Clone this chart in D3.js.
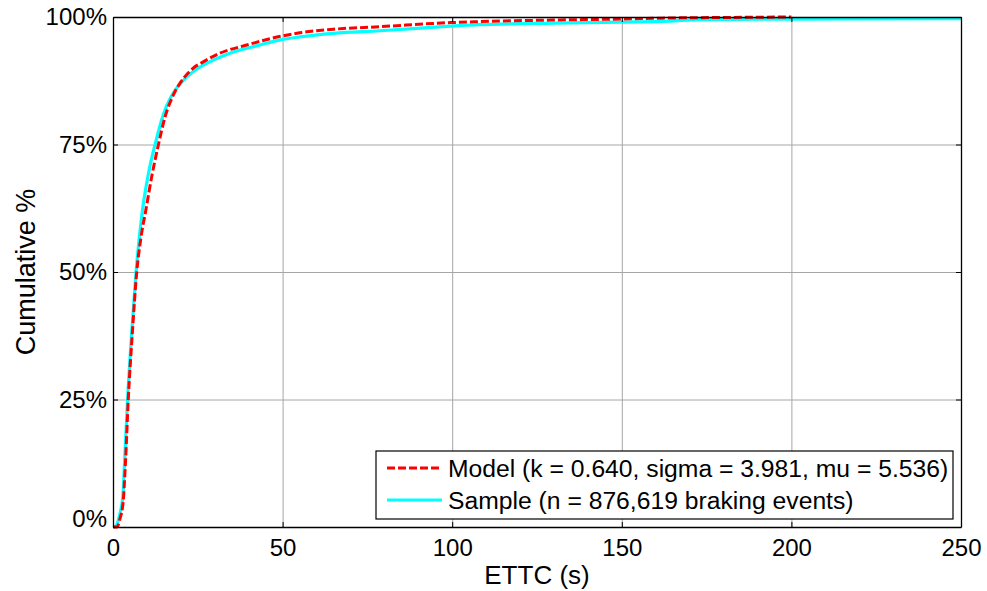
<!DOCTYPE html>
<html>
<head>
<meta charset="utf-8">
<script src="https://cdn.jsdelivr.net/npm/d3@7"></script>
<style>
  body { margin: 0; background: #fff; }
  text { font-family: "Liberation Sans", Arial, sans-serif; fill: #000; }
</style>
</head>
<body>
<div id="chart"></div>
<script>
// ETTC values in seconds, cumulative share in percent
const sampleT = [0, 1.0, 1.5, 2.1, 2.9, 3.5, 4.3, 5.5, 6.8, 8.7, 10.5, 12.4, 14.8, 17.0, 19.3, 21.7, 24.5, 27.6, 34.5, 43.3, 50, 55, 65, 78.7, 99.4, 108, 130, 149.5, 164, 173, 200, 250];
const sampleP = [0, 0.3, 1.2, 2.8, 5.9, 14, 25, 38, 50, 62.2, 69.5, 75, 80.8, 84.2, 86.5, 88.2, 89.7, 90.9, 92.9, 94.5, 95.6, 96.1, 96.8, 97.3, 98.2, 98.5, 98.8, 99.0, 99.2, 99.5, 99.6, 99.7];

const modelT = [0, 1.2, 2.0, 3.0, 3.7, 4.5, 5.7, 7.0, 8.3, 9.7, 11.5, 13.4, 15.3, 18, 21.2, 23.5, 26.6, 31.5, 39.4, 50, 55, 65, 78.7, 99.4, 108, 130, 149.5, 164, 180, 200];
const modelP = [0, 0, 1.5, 5, 13, 25, 38, 50, 57, 62.2, 69, 75, 80.3, 85, 88.3, 89.9, 91.2, 92.9, 94.5, 96.3, 96.9, 97.6, 98.1, 98.9, 99.1, 99.4, 99.6, 99.8, 99.9, 100];

const xTicks = [0, 50, 100, 150, 200, 250];
const yTicks = [0, 25, 50, 75, 100];
const legendLabels = ["Model (k = 0.640, sigma = 3.981, mu = 5.536)", "Sample (n = 876,619 braking events)"];

const width = 987, height = 591;
const margin = { top: 17, right: 26, bottom: 64, left: 113 };

const svg = d3.select("#chart").append("svg")
  .attr("width", width)
  .attr("height", height);

const x = d3.scaleLinear().domain([0, 250]).range([margin.left, width - margin.right]);
const y = d3.scaleLinear().domain([0, 100]).range([height - margin.bottom, margin.top]);

// grid
svg.append("g")
  .attr("transform", `translate(0,${height - margin.bottom})`)
  .call(d3.axisBottom(x).tickValues(xTicks).tickSize(-(height - margin.top - margin.bottom)).tickFormat(""))
  .call(g => g.select(".domain").remove())
  .selectAll("line").attr("stroke", "#a6a6a6").attr("stroke-width", 1);

svg.append("g")
  .attr("transform", `translate(${margin.left},0)`)
  .call(d3.axisLeft(y).tickValues(yTicks).tickSize(-(width - margin.left - margin.right)).tickFormat(""))
  .call(g => g.select(".domain").remove())
  .selectAll("line").attr("stroke", "#a6a6a6").attr("stroke-width", 1);

// curves
const sampleData = sampleT.map((t, i) => ({ t: t, p: sampleP[i] }));
const modelData = modelT.map((t, i) => ({ t: t, p: modelP[i] }));

const line = d3.line()
  .x(d => x(d.t))
  .y(d => y(d.p))
  .curve(d3.curveMonotoneX);

svg.append("path")
  .datum(sampleData)
  .attr("fill", "none")
  .attr("stroke", "#00ffff")
  .attr("stroke-width", 3.2)
  .attr("d", line);

svg.append("path")
  .datum(modelData)
  .attr("fill", "none")
  .attr("stroke", "#ff0000")
  .attr("stroke-width", 3)
  .attr("stroke-dasharray", "8,3")
  .attr("d", line);

// axes (box with inward ticks)
const tickLen = 5;
const xAxis = svg.append("g")
  .attr("transform", `translate(0,${height - margin.bottom})`)
  .call(d3.axisBottom(x).tickValues(xTicks).tickSizeInner(-tickLen).tickSizeOuter(0).tickPadding(12));
const yAxis = svg.append("g")
  .attr("transform", `translate(${margin.left},0)`)
  .call(d3.axisLeft(y).tickValues(yTicks).tickSizeInner(-tickLen).tickSizeOuter(0).tickPadding(6).tickFormat(d => d + "%"));
svg.append("g")
  .attr("transform", `translate(0,${margin.top})`)
  .call(d3.axisTop(x).tickValues(xTicks).tickSizeInner(-tickLen).tickSizeOuter(0).tickFormat(""));
svg.append("g")
  .attr("transform", `translate(${width - margin.right},0)`)
  .call(d3.axisRight(y).tickValues(yTicks).tickSizeInner(-tickLen).tickSizeOuter(0).tickFormat(""));

svg.selectAll(".domain").attr("stroke", "#000").attr("stroke-width", 1.3);
svg.selectAll(".tick text").attr("font-size", 24).attr("font-family", "Liberation Sans, Arial, sans-serif").attr("fill", "#000");
// MATLAB nudges the lowest y label up so it clears the x labels
yAxis.selectAll(".tick text").filter(d => d === 0).attr("y", -8);

xAxis.append("text")
  .attr("x", (margin.left + width - margin.right) / 2)
  .attr("y", 57)
  .attr("text-anchor", "middle")
  .attr("font-size", 26)
  .text("ETTC (s)");

svg.append("text")
  .attr("transform", `translate(35,${(margin.top + height - margin.bottom) / 2}) rotate(-90)`)
  .attr("text-anchor", "middle")
  .attr("font-size", 27)
  .text("Cumulative %");

// legend
const legend = svg.append("g");
legend.append("rect")
  .attr("x", 376).attr("y", 451)
  .attr("width", 577).attr("height", 68)
  .attr("fill", "#fff")
  .attr("stroke", "#000")
  .attr("stroke-width", 1.2);

const legendStyles = [
  { color: "#ff0000", dash: "8,3", w: 3 },
  { color: "#00ffff", dash: null, w: 3.2 }
];
legendLabels.forEach((lbl, i) => {
  const ly = 468 + i * 32;
  legend.append("line")
    .attr("x1", 387).attr("x2", 442)
    .attr("y1", ly).attr("y2", ly)
    .attr("stroke", legendStyles[i].color)
    .attr("stroke-width", legendStyles[i].w)
    .attr("stroke-dasharray", legendStyles[i].dash);
  legend.append("text")
    .attr("x", 448).attr("y", ly)
    .attr("dy", "0.35em")
    .attr("font-size", 24.7)
    .text(lbl);
});
</script>
</body>
</html>
